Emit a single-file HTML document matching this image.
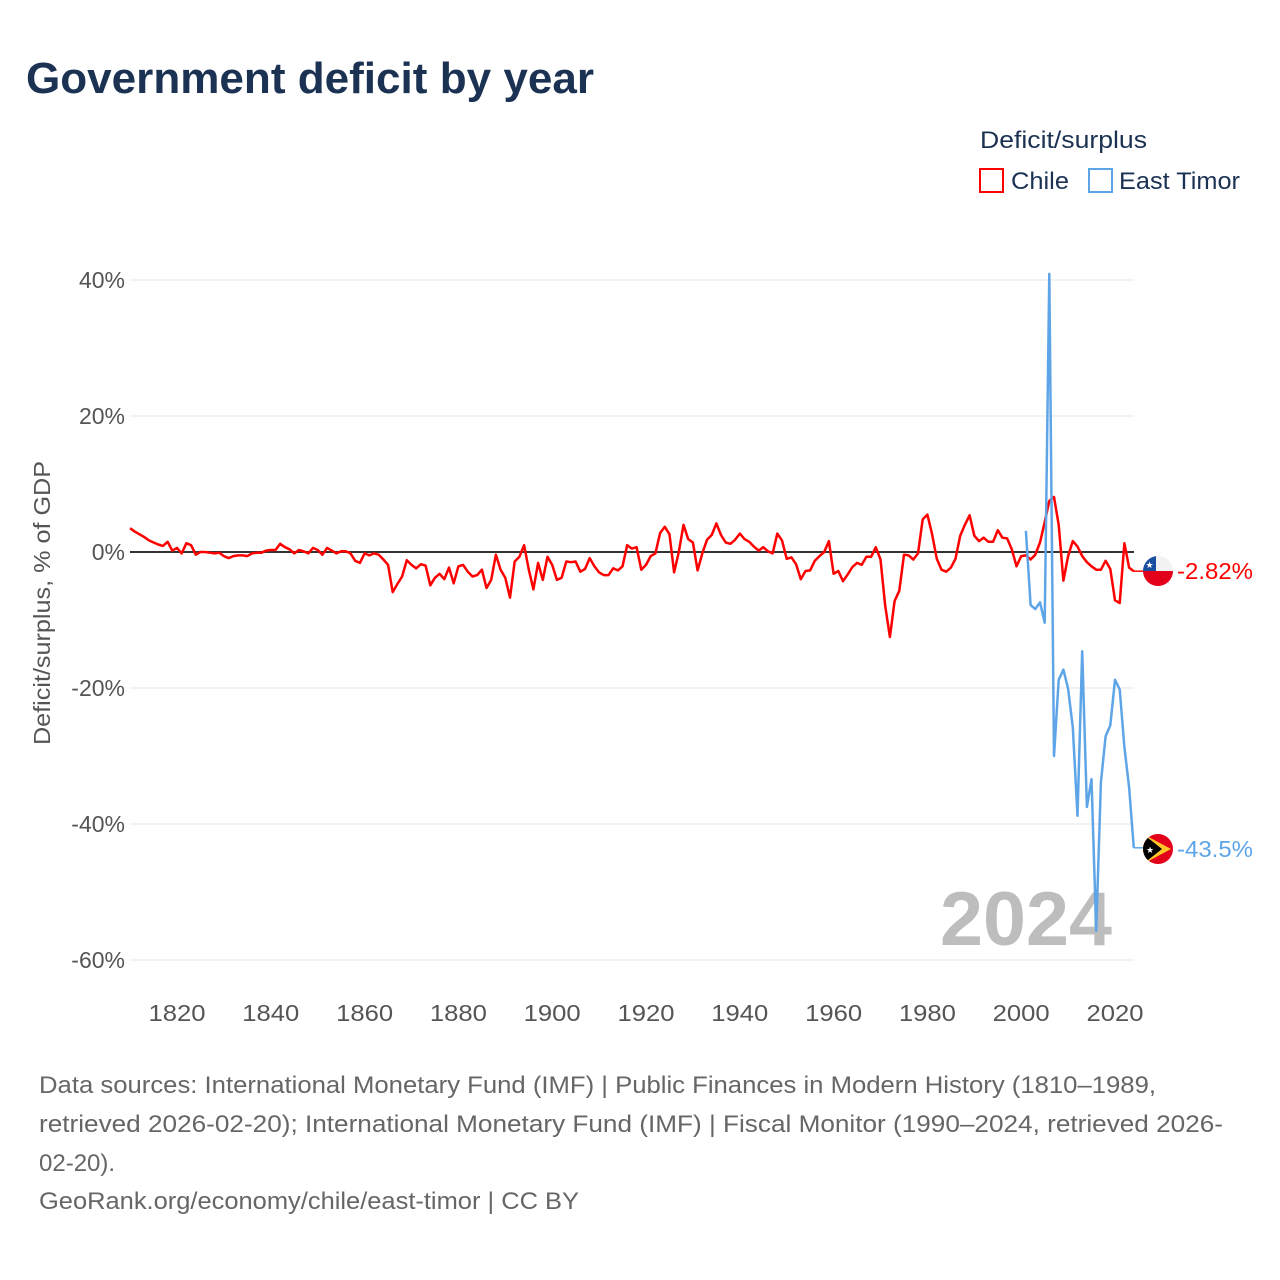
<!DOCTYPE html>
<html><head><meta charset="utf-8"><style>
html,body{margin:0;padding:0;background:#fff;}
svg{display:block;font-family:"Liberation Sans",sans-serif;}
</style></head><body>
<svg id="chart" width="1280" height="1280" viewBox="0 0 1280 1280" xmlns="http://www.w3.org/2000/svg">
<rect width="1280" height="1280" fill="#fff"/>
<text x="26" y="93" font-size="44" font-weight="bold" fill="#1b3253" textLength="568" lengthAdjust="spacingAndGlyphs">Government deficit by year</text>
<text x="980" y="148" font-size="24" fill="#1b3253" textLength="167" lengthAdjust="spacingAndGlyphs">Deficit/surplus</text>
<g>
<rect x="980" y="169" width="23" height="23" fill="#fff" stroke="#f00" stroke-width="2"/>
<text x="1011" y="189" font-size="24" fill="#1b3253" textLength="58" lengthAdjust="spacingAndGlyphs">Chile</text></g>
<g>
<rect x="1089" y="169" width="23" height="23" fill="#fff" stroke="#5ea5e8" stroke-width="2"/>
<text x="1119" y="189" font-size="24" fill="#1b3253" textLength="121" lengthAdjust="spacingAndGlyphs">East Timor</text></g>
<g id="grid"></g><g id="yticks"></g><g id="xticks"></g>
<text transform="translate(50,603) rotate(-90)" text-anchor="middle" font-size="23" fill="#555" textLength="284" lengthAdjust="spacingAndGlyphs">Deficit/surplus, % of GDP</text>
<text x="1112" y="945" text-anchor="end" font-size="76" font-weight="bold" fill="#bdbdbd" textLength="172" lengthAdjust="spacingAndGlyphs">2024</text>
<g id="series"></g>
<g>
<clipPath id="c1"><circle cx="1158" cy="571" r="15"/></clipPath>
<g clip-path="url(#c1)"><rect x="1143" y="556" width="30" height="15" fill="#f2f2f2"/><rect x="1143" y="571" width="30" height="15" fill="#e3001b"/><rect x="1143" y="556" width="13" height="15" fill="#1a4fa0"/><text x="1149.5" y="568" font-size="9" fill="#fff" text-anchor="middle">★</text></g></g>
<g>
<clipPath id="c2"><circle cx="1158" cy="849" r="15"/></clipPath>
<g clip-path="url(#c2)"><rect x="1143" y="834" width="30" height="30" fill="#e3001b"/><polygon points="1143,834 1171,849 1143,864" fill="#ffc726"/><polygon points="1143,834 1162,849 1143,864" fill="#000"/><text x="1150" y="853" font-size="9" fill="#fff" text-anchor="middle">★</text></g></g>
<text x="1177" y="579" font-size="23" fill="#f00" textLength="76" lengthAdjust="spacingAndGlyphs">-2.82%</text>
<text x="1177" y="857" font-size="23" fill="#5ea5e8" textLength="76" lengthAdjust="spacingAndGlyphs">-43.5%</text>
<g font-size="24" fill="#666">
<text x="39" y="1093" textLength="1117" lengthAdjust="spacingAndGlyphs">Data sources: International Monetary Fund (IMF) | Public Finances in Modern History (1810–1989,</text>
<text x="39" y="1132" textLength="1184" lengthAdjust="spacingAndGlyphs">retrieved 2026-02-20); International Monetary Fund (IMF) | Fiscal Monitor (1990–2024, retrieved 2026-</text>
<text x="39" y="1171">02-20).</text>
<text x="39" y="1209" textLength="540" lengthAdjust="spacingAndGlyphs">GeoRank.org/economy/chile/east-timor | CC BY</text>
</g>
</svg>
<script>
const chileStart = 1810;
const chileValues = [3.5,3.0,2.6,2.2,1.7,1.4,1.1,0.9,1.5,0.2,0.6,-0.2,1.3,1.0,-0.4,0,0,-0.1,-0.2,-0.1,
-0.6,-0.9,-0.6,-0.5,-0.5,-0.6,-0.2,-0.1,-0.1,0.2,0.3,0.3,1.2,0.7,0.4,-0.2,0.3,0.1,-0.2,0.6,
0.3,-0.4,0.6,0.2,-0.2,0.1,0.1,-0.2,-1.3,-1.6,-0.2,-0.5,-0.2,-0.4,-1.1,-1.9,-5.9,-4.7,-3.6,
-1.2,-1.9,-2.4,-1.8,-2.0,-4.9,-3.8,-3.2,-4.0,-2.3,-4.6,-2.1,-1.9,-2.9,-3.6,-3.4,-2.6,-5.3,-4.1,-0.4,
-2.6,-3.8,-6.7,-1.4,-0.7,1.0,-2.6,-5.5,-1.6,-4.1,-0.7,-1.9,-4.1,-3.8,-1.4,-1.5,-1.4,-2.9,-2.5,-0.9,
-2.1,-3.0,-3.4,-3.4,-2.4,-2.7,-2.1,1.0,0.5,0.7,-2.6,-1.9,-0.6,-0.2,2.8,3.7,2.6,-3.0,0.0,4.0,
1.9,1.4,-2.7,-0.2,1.8,2.5,4.2,2.5,1.4,1.2,1.8,2.7,1.9,1.5,0.8,0.2,0.7,0.1,-0.2,2.7,
1.7,-1.0,-0.8,-1.8,-4.0,-2.8,-2.7,-1.3,-0.6,0,1.6,-3.2,-2.8,-4.3,-3.3,-2.2,-1.6,-1.9,-0.7,-0.7,
0.7,-1.1,-7.9,-12.5,-7.2,-5.7,-0.4,-0.5,-1.1,-0.2,4.8,5.5,2.6,-1.0,-2.6,-2.9,-2.3,
-1.0,2.4,4.0,5.4,2.4,1.6,2.1,1.5,1.5,3.2,2.1,2.0,0.4,-2.1,-0.6,-0.5,-1.1,-0.4,1.4,4.4,
7.5,8.1,4.0,-4.2,-0.6,1.6,0.8,-0.6,-1.5,-2.1,-2.6,-2.6,-1.3,-2.5,-7.1,-7.5,1.3,-2.3,-2.82];
const timorStart = 2001;
const timorValues = [3.1,-7.8,-8.4,-7.4,-10.4,40.9,-30,-18.8,-17.3,-20.1,-25.8,-38.8,-14.6,-37.5,-33.4,-55.7,-33.9,-27.1,-25.5,-18.8,-20.2,-28.7,-34.6,-43.5];
const yTicks = [40,20,0,-20,-40,-60];
const yTickLabels = ["40%","20%","0%","-20%","-40%","-60%"];
const xTicks = [1820,1840,1860,1880,1900,1920,1940,1960,1980,2000,2020];

const NS="http://www.w3.org/2000/svg";
function xs(yr){return 177+(yr-1820)*(1115-177)/200;}
function ys(v){return 552-v*(552-280)/40;}
function mk(tag,attrs,parent){const e=document.createElementNS(NS,tag);for(const k in attrs)e.setAttribute(k,attrs[k]);parent.appendChild(e);return e;}
const grid=document.getElementById('grid'),yt=document.getElementById('yticks'),xt=document.getElementById('xticks'),ser=document.getElementById('series');
yTicks.forEach((t,i)=>{
  const l=mk('line',{x1:130,x2:1134,y1:ys(t),y2:ys(t),stroke:t===0?'#333':'#e6e6e6','stroke-width':t===0?2:1},grid);
  
  
  const tx=mk('text',{x:125,y:ys(t)+8,'text-anchor':'end','font-size':23,fill:'#555'},yt);
  tx.textContent=yTickLabels[i];
  
  
});
xTicks.forEach(t=>{
  const tx=mk('text',{x:xs(t),y:1021,'text-anchor':'middle','font-size':23,fill:'#555',textLength:57,lengthAdjust:'spacingAndGlyphs'},xt);
  tx.textContent=String(t);
  
  
});
function line(start,vals,color,name){
  const pts=vals.map((v,i)=>xs(start+i).toFixed(1)+','+ys(v).toFixed(1));
  const p=mk('polyline',{points:pts.join(' '),fill:'none',stroke:color,'stroke-width':2.5,'stroke-linejoin':'round'},ser);
  
  
  const last=vals[vals.length-1],lx=xs(start+vals.length-1);
  const c=mk('line',{x1:lx,x2:1143,y1:ys(last),y2:ys(last),stroke:color,'stroke-width':1.5},ser);
  
  
}
line(chileStart,chileValues,'#f00','line-chile');
line(timorStart,timorValues,'#5ea5e8','line-east-timor');
</script>
</body></html>
